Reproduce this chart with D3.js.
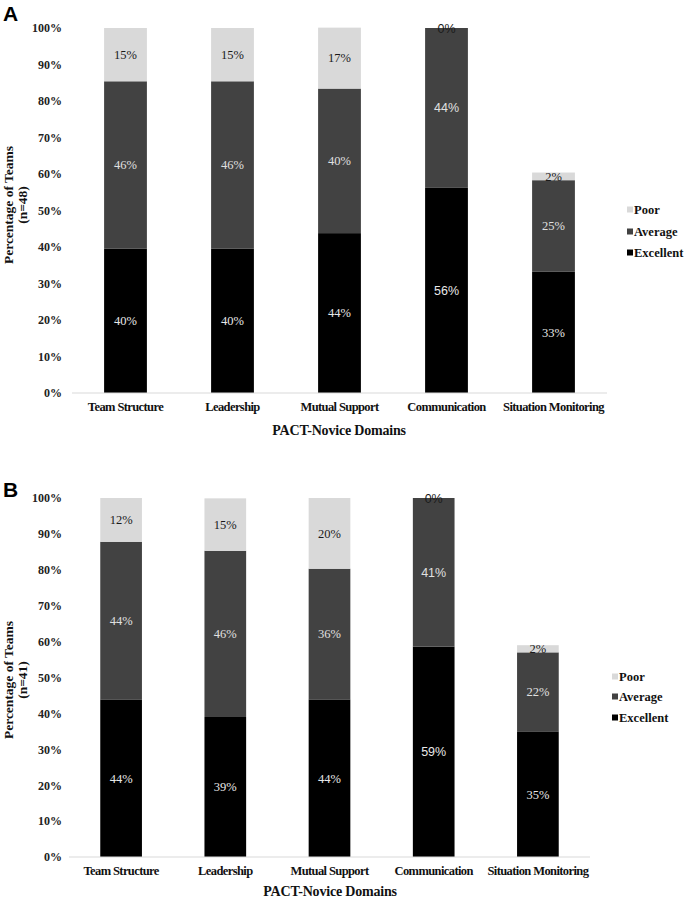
<!DOCTYPE html>
<html>
<head>
<meta charset="utf-8">
<script src="https://cdn.jsdelivr.net/npm/d3@7"></script>
<style>
  body { margin: 0; background: #fff; }
  svg { display: block; }
</style>
</head>
<body>
<svg id="chart" width="690" height="903"></svg>
<script>
// ---- data ----
const categories = ["Team Structure", "Leadership", "Mutual Support", "Communication", "Situation Monitoring"];
const seriesNames = ["Excellent", "Average", "Poor"];
const tickValues = [0, 10, 20, 30, 40, 50, 60, 70, 80, 90, 100];

// Panel A (n=48)
const excellentA = [39.6, 39.6, 43.8, 56.2, 33.3];
const averageA   = [45.8, 45.8, 39.6, 43.8, 25.0];
const poorA      = [14.6, 14.6, 16.7, 0.0, 2.1];

// Panel B (n=41)
const excellentB = [43.9, 39.0, 43.9, 58.6, 35.0];
const averageB   = [43.9, 46.3, 36.4, 41.4, 22.0];
const poorB      = [12.2, 14.6, 19.7, 0.0, 2.0];

// ---- styles ----
const colors = { Excellent: "#000000", Average: "#424242", Poor: "#d9d9d9" };
const labelColors = { Excellent: "#e8e8e8", Average: "#e0e0e0", Poor: "#1a1a1a" };
const serif = "'Liberation Serif', 'Times New Roman', serif";
const sans = "'Liberation Sans', Arial, sans-serif";

const svg = d3.select("#chart");

function panel(cfg) {
  const rows = categories.map((c, i) => ({
    cat: c, Excellent: cfg.ex[i], Average: cfg.av[i], Poor: cfg.po[i]
  }));
  const stack = d3.stack().keys(seriesNames)(rows);

  const x = d3.scaleBand().domain(categories).range(cfg.xr)
    .paddingInner(0.6).paddingOuter(0.3);
  const y = d3.scaleLinear().domain([0, 100]).range(cfg.yr);

  const g = svg.append("g");

  // panel letter
  g.append("text").attr("x", 3).attr("y", cfg.letterY)
    .attr("font-family", sans).attr("font-weight", "bold").attr("font-size", 21)
    .attr("fill", "#000").text(cfg.letter);

  // bars
  stack.forEach(layer => {
    g.append("g").selectAll("rect").data(layer).join("rect")
      .attr("x", d => x(d.data.cat))
      .attr("width", x.bandwidth())
      .attr("y", d => y(d[1]))
      .attr("height", d => y(d[0]) - y(d[1]))
      .attr("fill", colors[layer.key]);
  });

  // value labels
  stack.forEach(layer => {
    g.append("g").selectAll("text").data(layer).join("text")
      .attr("x", d => x(d.data.cat) + x.bandwidth() / 2)
      .attr("y", d => {
        const v = d[1] - d[0];
        return v < 1 ? y(d[1]) + 1 : (y(d[0]) + y(d[1])) / 2;
      })
      .attr("dy", "0.35em")
      .attr("text-anchor", "middle")
      .attr("font-family", d => d.data.cat === "Communication" ? sans : serif)
      .attr("font-size", 12.5)
      .attr("fill", d => (d[1] - d[0]) < 4 ? "#1a1a1a" : labelColors[layer.key])
      .text(d => Math.round(d[1] - d[0]) + "%");
  });

  // baseline (x axis line)
  g.append("line")
    .attr("x1", cfg.xr[0]).attr("x2", cfg.xr[1])
    .attr("y1", y(0)).attr("y2", y(0))
    .attr("stroke", "#d9d9d9").attr("stroke-width", 1);

  // y axis tick labels
  const yAxis = d3.axisLeft(y).tickValues(tickValues).tickSize(0)
    .tickFormat(d => d + "%");
  const ya = g.append("g").attr("transform", `translate(${cfg.tickX},0)`).call(yAxis);
  ya.select(".domain").remove();
  ya.selectAll("text")
    .attr("font-family", serif).attr("font-weight", "bold")
    .attr("font-size", 12).attr("fill", "#222").attr("x", 0);

  // x axis category labels
  const xAxis = d3.axisBottom(x).tickSize(0);
  const xa = g.append("g").attr("transform", `translate(0,${y(0)})`).call(xAxis);
  xa.select(".domain").remove();
  xa.selectAll("text")
    .attr("font-family", serif).attr("font-weight", "bold")
    .attr("font-size", 12.5).attr("letter-spacing", "-0.6px")
    .attr("fill", "#111").attr("y", 9);

  // x title
  g.append("text").attr("x", cfg.xTitleX).attr("y", cfg.xTitleY)
    .attr("text-anchor", "middle")
    .attr("font-family", serif).attr("font-weight", "bold").attr("font-size", 14)
    .attr("letter-spacing", "-0.2px")
    .attr("fill", "#111").text("PACT-Novice Domains");

  // y title
  const yt = g.append("text")
    .attr("transform", `translate(${cfg.yTitleX},${cfg.yTitleY}) rotate(-90)`)
    .attr("text-anchor", "middle")
    .attr("font-family", serif).attr("font-weight", "bold").attr("font-size", 13.5)
    .attr("fill", "#111");
  yt.append("tspan").attr("x", 0).attr("dy", 0).text("Percentage of Teams");
  yt.append("tspan").attr("x", 0).attr("dy", 14).text(cfg.nLabel);

  // legend
  const legendOrder = ["Poor", "Average", "Excellent"];
  const lg = g.append("g");
  legendOrder.forEach((k, i) => {
    const ly = cfg.legendY[i];
    lg.append("rect").attr("x", cfg.legendX).attr("y", ly - 3.5)
      .attr("width", 6).attr("height", 6).attr("fill", colors[k]);
    lg.append("text").attr("x", cfg.legendX + 7).attr("y", ly)
      .attr("dy", "0.35em")
      .attr("font-family", serif).attr("font-weight", "bold").attr("font-size", 12.5)
      .attr("fill", "#111").text(k);
  });
}

panel({
  letter: "A", letterY: 21,
  ex: excellentA, av: averageA, po: poorA,
  xr: [72, 607], yr: [393, 28],
  tickX: 62,
  xTitleX: 339, xTitleY: 435,
  yTitleX: 13, yTitleY: 205, nLabel: "(n=48)",
  legendX: 627, legendY: [210, 232, 253]
});

panel({
  letter: "B", letterY: 497,
  ex: excellentB, av: averageB, po: poorB,
  xr: [69, 590], yr: [857, 498],
  tickX: 62,
  xTitleX: 330, xTitleY: 896,
  yTitleX: 13, yTitleY: 680, nLabel: "(n=41)",
  legendX: 612, legendY: [677, 697, 718]
});
</script>
</body>
</html>
